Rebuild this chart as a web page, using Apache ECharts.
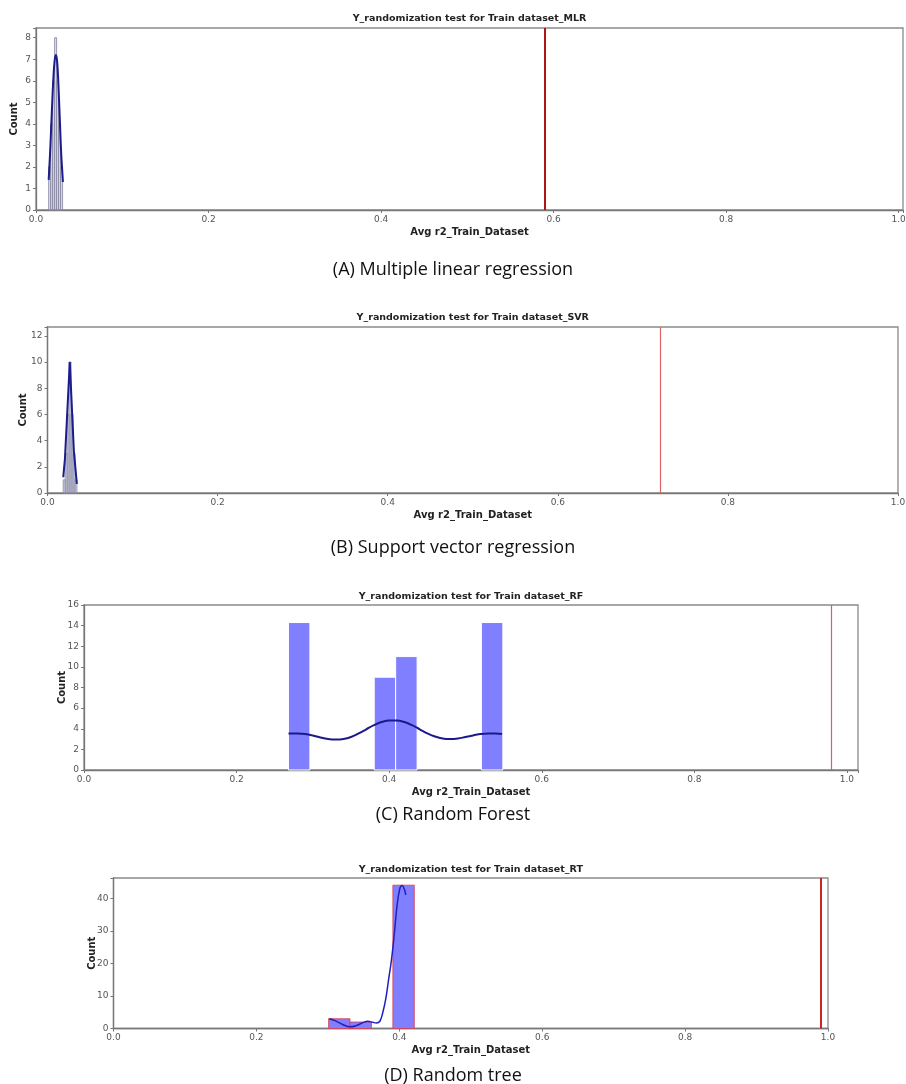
<!DOCTYPE html>
<html>
<head>
<meta charset="utf-8">
<script src="https://cdn.jsdelivr.net/npm/echarts@6/dist/echarts.min.js"></script>
<style>
html,body{margin:0;padding:0;background:#fff}
#main{width:906px;height:1084px}
</style>
</head>
<body>
<div id="main"></div>
<script>
// 文本
var plotTitles = ['Y_randomization test for Train dataset_MLR', 'Y_randomization test for Train dataset_SVR',
	'Y_randomization test for Train dataset_RF', 'Y_randomization test for Train dataset_RT'];
var captions = ['(A) Multiple linear regression', '(B) Support vector regression', '(C) Random Forest', '(D) Random tree'];
var xName = 'Avg r2_Train_Dataset';
var yName = 'Count';

// MLR
var mlrBinStart = 0.0147, mlrBinWidth = 0.0023;
var mlrCounts = [2, 4, 6, 8, 6, 4, 2];
var mlrKde = [[0.0147,1.4],[0.0165,2.8],[0.0185,4.7],[0.020,6.0],[0.0215,6.9],[0.023,7.2],[0.0245,6.9],[0.026,5.8],[0.0275,4.3],[0.029,2.8],[0.0312,1.3]];
var mlrObserved = 0.586;

// SVR
var svrBinStart = 0.0185, svrBinWidth = 0.0023;
var svrCounts = [1, 3, 6, 10, 6, 3, 1];
var svrKde = [[0.0185,1.2],[0.0205,2.6],[0.0262,10],[0.031,3.2],[0.0345,0.7]];
var svrObserved = 0.718;

// RF
var rfBinStart = 0.268, rfBinWidth = 0.0281;
var rfCounts = [14.3, 0, 0, 0, 9, 11, 0, 0, 0, 14.3];
var rfKde = [[0.268,3.55],[0.28,3.55],[0.29,3.5],[0.30,3.35],[0.31,3.15],[0.32,3.0],[0.33,2.95],[0.34,3.0],[0.35,3.2],[0.36,3.55],
	[0.37,3.95],[0.38,4.35],[0.39,4.65],[0.40,4.8],[0.41,4.8],[0.42,4.65],[0.43,4.35],[0.44,3.95],[0.45,3.55],[0.46,3.25],
	[0.47,3.05],[0.48,3.0],[0.49,3.05],[0.50,3.2],[0.51,3.35],[0.52,3.5],[0.53,3.55],[0.54,3.55],[0.548,3.5]];
var rfObserved = 0.985;

// RT
var rtBinStart = 0.301, rtBinWidth = 0.030;
var rtCounts = [3, 2, 0, 44];
var rtKde = [[0.302,3.0],[0.31,2.4],[0.32,1.3],[0.331,0.5],[0.34,0.9],[0.348,1.7],[0.356,2.2],[0.363,1.9],[0.368,1.7],[0.373,2.3],
	[0.377,5],[0.381,9],[0.385,15],[0.389,21],[0.393,29],[0.397,38],[0.401,43.2],[0.404,43.9],[0.407,42.8],[0.409,41]];
var rtObserved = 0.992;

var panels = [
	{start:mlrBinStart, width:mlrBinWidth, counts:mlrCounts, kde:mlrKde, obs:mlrObserved,
	 grid:{left:36, top:28, width:867, height:182}, xMax:1.005, yMax:8.45, yStep:1, yGap:17,
	 fill:'rgba(165,165,215,0.35)', stroke:'rgba(140,140,165,0.9)', kdeColor:'#1c1c8c', kdeWidth:2, smooth:true,
	 redColor:'#b01414', redWidth:2, titleY:19, capY:270},
	{start:svrBinStart, width:svrBinWidth, counts:svrCounts, kde:svrKde, obs:svrObserved,
	 grid:{left:47.5, top:327, width:850.5, height:166}, xMax:1.0, yMax:12.67, yStep:2, yGap:19,
	 fill:'rgba(165,165,215,0.35)', stroke:'rgba(140,140,165,0.9)', kdeColor:'#1c1c8c', kdeWidth:2, smooth:false,
	 redColor:'#e06464', redWidth:1.2, titleY:318, capY:548},
	{start:rfBinStart, width:rfBinWidth, counts:rfCounts, kde:rfKde, obs:rfObserved,
	 grid:{left:84, top:605, width:774, height:165}, xMax:1.0145, yMax:16, yStep:2, yGap:17,
	 fill:'#7f7fff', stroke:'#ffffff', kdeColor:'#1a1a8a', kdeWidth:2, smooth:true,
	 redColor:'#d06070', redWidth:1.2, titleY:597, capY:815},
	{start:rtBinStart, width:rtBinWidth, counts:rtCounts, kde:rtKde, obs:rtObserved,
	 grid:{left:113.5, top:878, width:714.5, height:150.5}, xMax:1.0, yMax:46.2, yStep:10, yGap:16,
	 fill:'#7f7fff', stroke:'rgba(225,60,75,0.8)', kdeColor:'#2020c0', kdeWidth:1.5, smooth:true,
	 redColor:'#cc2424', redWidth:2, titleY:870, capY:1076}
];

function stepFormatter(step, digits){
	return function(v){
		var r = Math.round(v / step);
		return Math.abs(v - r * step) < 1e-6 ? v.toFixed(digits) : '';
	};
}

var grids = [], xAxes = [], yAxes = [], series = [], graphics = [];
panels.forEach(function(p, i){
	grids.push({left:p.grid.left, top:p.grid.top, width:p.grid.width, height:p.grid.height,
		outerBoundsMode:'none', containLabel:false,
		show:true, borderColor:'#8a8a8a', borderWidth:1.3, backgroundColor:'#fff'});
	xAxes.push({type:'value', gridIndex:i, min:0, max:p.xMax, interval:0.2,
		name:xName, nameLocation:'middle', nameGap:17,
		nameTextStyle:{fontFamily:'DejaVu Sans', fontWeight:'bold', fontSize:10, color:'#222'},
		axisLine:{show:true, onZero:false, lineStyle:{color:'#777', width:1.3}},
		axisTick:{show:true, length:3, lineStyle:{color:'#777'}},
		axisLabel:{fontFamily:'DejaVu Sans', fontSize:9, color:'#555', margin:5, formatter:stepFormatter(0.2, 1)},
		splitLine:{show:false}});
	yAxes.push({type:'value', gridIndex:i, min:0, max:p.yMax, interval:p.yStep,
		name:yName, nameLocation:'middle', nameGap:p.yGap, nameMoveOverlap:false,
		nameTextStyle:{fontFamily:'DejaVu Sans', fontWeight:'bold', fontSize:10, color:'#222'},
		axisLine:{show:true, lineStyle:{color:'#777', width:1.3}},
		axisTick:{show:true, length:3, lineStyle:{color:'#777'}},
		axisLabel:{fontFamily:'DejaVu Sans', fontSize:9, color:'#555', margin:5, formatter:stepFormatter(p.yStep, 0)},
		splitLine:{show:false}});
	var bins = p.counts.map(function(c, k){
		return [p.start + k * p.width, p.start + (k + 1) * p.width, c];
	}).filter(function(b){ return b[2] > 0; });
	series.push({type:'custom', xAxisIndex:i, yAxisIndex:i, data:bins, encode:{x:[0, 1], y:2},
		renderItem:function(params, api){
			var a = api.coord([api.value(0), api.value(2)]);
			var b = api.coord([api.value(1), 0]);
			return {type:'rect', shape:{x:a[0], y:a[1], width:b[0] - a[0], height:b[1] - a[1]},
				style:{fill:p.fill, stroke:p.stroke, lineWidth:1}};
		}});
	series.push({type:'line', xAxisIndex:i, yAxisIndex:i, data:p.kde, smooth:p.smooth ? 0.4 : false,
		showSymbol:false, lineStyle:{color:p.kdeColor, width:p.kdeWidth},
		markLine:{silent:true, symbol:'none', label:{show:false},
			lineStyle:{color:p.redColor, width:p.redWidth, type:'solid'},
			data:[{xAxis:p.obs}]}});
	graphics.push({type:'text', x:p.grid.left + p.grid.width / 2, y:p.titleY,
		style:{text:plotTitles[i], font:'bold 9.5px "DejaVu Sans"', fill:'#222', textAlign:'center', textVerticalAlign:'middle'}});
	graphics.push({type:'text', x:453, y:p.capY,
		style:{text:captions[i], font:'18px "Open Sans"', fill:'#111', textAlign:'center', textVerticalAlign:'middle'}});
});

var myChart = echarts.init(document.getElementById('main'));
myChart.setOption({
	animation:false,
	backgroundColor:'#fff',
	grid:grids,
	xAxis:xAxes,
	yAxis:yAxes,
	series:series,
	graphic:graphics
});
</script>
</body>
</html>
